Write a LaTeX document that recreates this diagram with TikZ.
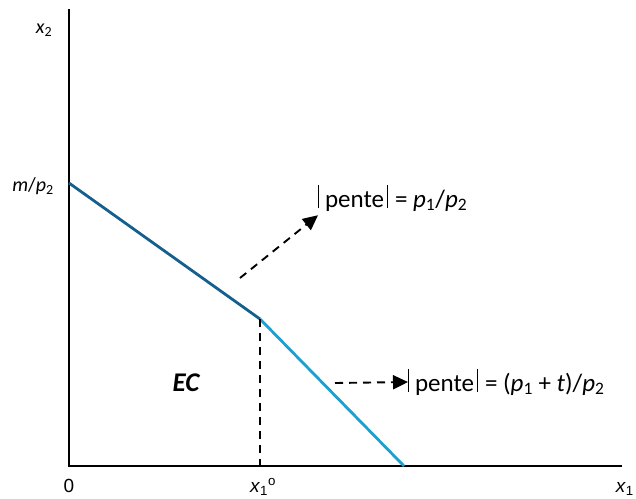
\documentclass[tikz,border=0pt]{standalone}
\usepackage{fontspec}
\setmainfont{Carlito}
\newfontfamily\arialf{Liberation Sans}
\usetikzlibrary{arrows.meta}
\definecolor{darkb}{HTML}{145F8D}
\definecolor{lightb}{HTML}{1CA0D2}
\newcommand{\absbar}{\rule[-1pt]{0.9pt}{23pt}}
\begin{document}
\begin{tikzpicture}[x=1pt,y=-1pt,
  axis/.style={line width=1.8pt,black},
  seg/.style={line width=2.8pt},
  dsh/.style={line width=1.9pt,dash pattern=on 8pt off 6pt},
  darr/.style={dsh,-{Triangle[length=15pt,width=14pt]}},
  lab/.style={font=\fontsize{20}{22}\selectfont,inner sep=0pt},
  blab/.style={font=\arialf\fontsize{19}{21}\selectfont,inner sep=0pt,anchor=base},
  plab/.style={font=\fontsize{25}{28}\selectfont,inner sep=0pt,anchor=base west}]
\useasboundingbox (0,0) rectangle (636,498);
\coordinate (top) at (69,9);
\coordinate (O) at (69,466);
\coordinate (xend) at (622,466);
\coordinate (A) at (69,183);
\coordinate (K) at (260,319);
\coordinate (B) at (404,466);
\coordinate (Kx) at (260,466);
\draw[axis] (top) -- (O) -- (xend);
\draw[seg,darkb] (A) -- (K);
\draw[seg,lightb] (K) -- (B);
\draw[dsh] (K) -- (Kx);
\node[lab] (lx2) at (44,30) {\textit{x}\textsubscript{2}};
\node[lab,anchor=east] (lm) at (54,186) {\textit{m}/\textit{p}\textsubscript{2}};
\node[blab] (l0) at (69,492) {0};
\node[blab] (lx10) at (263,492) {\textit{x}\textsubscript{1}\textsuperscript{o}};
\node[blab,anchor=base east] (lx1) at (634,492) {\textit{x}\textsubscript{1}};
\node[font=\fontsize{27}{29}\selectfont\bfseries\itshape,inner sep=0pt] (ec) at (186,383) {EC};
\node[plab] (p1) at (318,207) {\absbar\hspace{6pt}pente\hspace{3pt}\absbar\hspace{7pt}= \textit{p}\textsubscript{1}/\textit{p}\textsubscript{2}};
\node[plab] (p2) at (408,391) {\absbar\hspace{6pt}pente\hspace{3pt}\absbar\hspace{7pt}= (\textit{p}\textsubscript{1} + \textit{t})/\textit{p}\textsubscript{2}};
\coordinate (s1) at (240,278);
\coordinate (s2) at (335,383);
\draw[darr] (s1) -- ([yshift=-4pt]p1.south west);
\draw[darr] (s2) -- (p2.west);
\end{tikzpicture}
\end{document}
